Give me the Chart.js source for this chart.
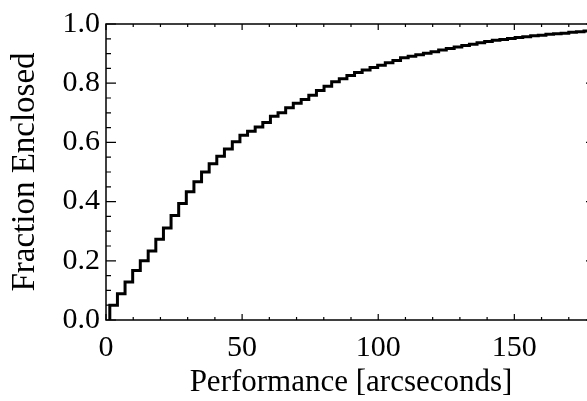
<!DOCTYPE html>
<html>
<head>
<meta charset="utf-8">
<script src="https://cdn.jsdelivr.net/npm/chart.js@4"></script>
<style>
  html, body { margin: 0; padding: 0; background: #fff; overflow: hidden; }
  #wrap { width: 600px; height: 401px; }
</style>
</head>
<body>
<div id="wrap"><canvas id="cdfChart" width="600" height="401"></canvas></div>
<script>
// bin edges [arcseconds]
const binEdges = [
  1.4, 4.2, 7.0, 9.8, 12.6, 15.5, 18.3, 21.1, 23.9, 26.7,
  29.5, 32.3, 35.1, 37.9, 40.7, 43.5, 46.4, 49.2, 52.0, 54.8,
  57.6, 60.4, 63.2, 66.0, 68.8, 71.7, 74.5, 77.3, 80.1, 82.9,
  85.7, 88.5, 91.3, 94.1, 97.0, 99.8, 102.6, 105.4, 108.2, 111.0,
  113.8, 116.6, 119.4, 122.2, 125.0, 127.9, 130.7, 133.5, 136.3, 139.1,
  141.9, 144.7, 147.5, 150.3, 153.1, 156.0, 158.8, 161.6, 164.4, 167.2,
  170.0, 172.8, 175.6, 178.4
];

// fraction enclosed just after each edge
const fractionEnclosed = [
  0.050, 0.089, 0.128, 0.167, 0.200, 0.233, 0.273, 0.311, 0.353, 0.394,
  0.433, 0.467, 0.500, 0.528, 0.553, 0.578, 0.602, 0.624, 0.638, 0.652,
  0.667, 0.688, 0.700, 0.717, 0.732, 0.745, 0.759, 0.775, 0.790, 0.805,
  0.815, 0.826, 0.836, 0.845, 0.853, 0.861, 0.869, 0.877, 0.886, 0.891,
  0.896, 0.901, 0.906, 0.912, 0.917, 0.922, 0.927, 0.932, 0.937, 0.941,
  0.945, 0.948, 0.951, 0.954, 0.957, 0.960, 0.962, 0.965, 0.967, 0.969,
  0.972, 0.974, 0.976, 0.978
];

const xTickLabels = [0, 50, 100, 150];
const yTickLabels = [0.0, 0.2, 0.4, 0.6, 0.8, 1.0];
const xMinorStep = 10;
const yMinorStep = 0.05;

const points = [{ x: binEdges[0], y: 0 }].concat(
  binEdges.map((e, i) => ({ x: e, y: fractionEnclosed[i] }))
);

const serif = '"Liberation Serif", "DejaVu Serif", serif';

// box around the plot with inward ticks on all four sides
const frameTicks = {
  id: 'frameTicks',
  afterDraw(chart) {
    const { ctx, chartArea: a, scales } = chart;
    const xs = scales.x, ys = scales.y;
    ctx.save();
    ctx.strokeStyle = '#000';
    ctx.lineWidth = 1.5;
    ctx.strokeRect(a.left, a.top, a.right - a.left, a.bottom - a.top);
    ctx.lineWidth = 1.2;
    ctx.beginPath();
    for (let v = xs.min; v <= xs.max + 1e-6; v += xMinorStep) {
      const px = xs.getPixelForValue(v);
      const len = (v % 50 === 0) ? 6 : 3;
      ctx.moveTo(px, a.bottom); ctx.lineTo(px, a.bottom - len);
      ctx.moveTo(px, a.top); ctx.lineTo(px, a.top + len);
    }
    for (let i = 0; i <= 20; i++) {
      const v = i * yMinorStep;
      const py = ys.getPixelForValue(v);
      const len = (i % 4 === 0) ? 10 : 5;
      ctx.moveTo(a.left, py); ctx.lineTo(a.left + len, py);
      ctx.moveTo(a.right, py); ctx.lineTo(a.right - len, py);
    }
    ctx.stroke();
    ctx.restore();
  }
};

const ctx = document.getElementById('cdfChart').getContext('2d');
const chart = new Chart(ctx, {
  type: 'line',
  data: {
    datasets: [{
      data: points,
      stepped: 'before',
      borderColor: '#000',
      borderWidth: 3,
      pointRadius: 0,
      fill: false
    }]
  },
  options: {
    responsive: false,
    animation: false,
    layout: { padding: { top: 20, right: 4, left: 0, bottom: 0 } },
    plugins: { legend: { display: false }, tooltip: { enabled: false } },
    scales: {
      x: {
        type: 'linear',
        min: 0,
        max: 180,
        afterBuildTicks: (s) => { s.ticks = xTickLabels.map(v => ({ value: v })); },
        afterFit: (s) => { s.height = 81; },
        grid: { display: false, drawTicks: false },
        border: { display: false },
        ticks: {
          color: '#000',
          padding: 10,
          maxRotation: 0,
          font: { family: serif, size: 30 }
        },
        title: {
          display: true,
          text: 'Performance [arcseconds]',
          color: '#000',
          padding: { top: 0, bottom: 0 },
          font: { family: serif, size: 31 }
        }
      },
      y: {
        min: 0,
        max: 1,
        afterBuildTicks: (s) => { s.ticks = yTickLabels.map(v => ({ value: v })); },
        afterFit: (s) => { s.width = 106; },
        grid: { display: false, drawTicks: false },
        border: { display: false },
        ticks: {
          color: '#000',
          padding: 6,
          font: { family: serif, size: 30 },
          callback: (v) => Number(v).toFixed(1)
        },
        title: {
          display: true,
          text: 'Fraction Enclosed',
          color: '#000',
          padding: { top: 6, bottom: 0 },
          font: { family: serif, size: 33 }
        }
      }
    }
  },
  plugins: [frameTicks]
});
</script>
</body>
</html>
